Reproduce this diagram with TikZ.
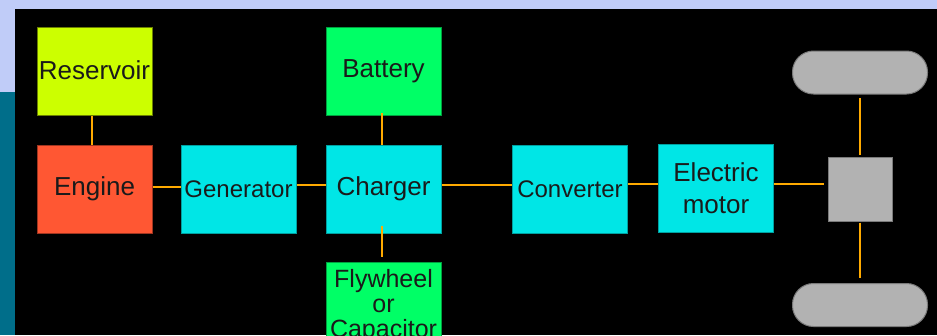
\documentclass[tikz,border=0pt]{standalone}
\usepackage{fontspec}
\setmainfont{Liberation Sans}
\definecolor{lav}{HTML}{C0CCF8}
\definecolor{teal2}{HTML}{006E8A}
\definecolor{lime}{HTML}{CCFF00}
\definecolor{limeb}{HTML}{6B8000}
\definecolor{eng}{HTML}{FF5733}
\definecolor{engb}{HTML}{A03520}
\definecolor{cyn}{HTML}{00E6E6}
\definecolor{cynb}{HTML}{00A0A0}
\definecolor{grn}{HTML}{00FF66}
\definecolor{grnb}{HTML}{00A040}
\definecolor{gry}{HTML}{B2B2B2}
\definecolor{gryb}{HTML}{7A7A7A}
\definecolor{wire}{HTML}{FFAA00}
\definecolor{ink}{HTML}{1A1A1A}
\tikzset{
  blk/.style={draw, line width=1pt, inner sep=0pt, minimum width=115pt, minimum height=88pt,
    text=ink, font=\fontsize{26pt}{32pt}\selectfont, align=center},
  smalltext/.style={font=\fontsize{24pt}{28pt}\selectfont},
  wheel/.style={draw=gryb, fill=gry, line width=1pt, rounded corners=21pt, minimum width=135pt, minimum height=43pt, inner sep=0pt},
  conn/.style={draw=wire, line width=2pt}
}
\begin{document}
\begin{tikzpicture}[x=1pt,y=-1pt]
\useasboundingbox (0,0) rectangle (937,335);
\clip (0,0) rectangle (937,335);
\fill[lav] (0,0) rectangle (937,335);
\fill[teal2] (0,92) rectangle (15,335);
\fill[black] (15,9) rectangle (937,335);

\node[blk, fill=lime, draw=limeb] (res) at (94.5,71.5) {\raisebox{2pt}{Reservoir}};
\node[blk, fill=eng, draw=engb] (eng) at (94.5,189) {Engine};
\node[blk, fill=cyn, draw=cynb, smalltext] (gen) at (238.5,189) {Generator};
\node[blk, fill=cyn, draw=cynb] (chg) at (383.5,189) {Charger};
\node[blk, fill=grn, draw=grnb] (bat) at (383.5,71.5) {Battery};
\node[blk, fill=grn, draw=grnb, font=\fontsize{25pt}{25pt}\selectfont] (fly) at (383.5,306) {Flywheel\\or\\Capacitor};
\node[blk, fill=cyn, draw=cynb, smalltext] (cnv) at (570,189) {Converter};
\node[blk, fill=cyn, draw=cynb] (mot) at (716,188.7) {Electric\\motor};
\node[draw=gryb, fill=gry, line width=1pt, minimum width=64pt, minimum height=64pt, inner sep=0pt] (diff) at (860,189) {};
\node[wheel] (wt) at (860,72.5) {};
\node[wheel] (wb) at (860,305) {};

\draw[conn] ([xshift=-2.5pt]res.south) -- ([xshift=-2.5pt]eng.north);
\draw[conn] ([yshift=2.3pt]eng.east) -- ([yshift=2.3pt]gen.west);
\draw[conn] ([yshift=4pt]gen.east) -- ([yshift=4pt]chg.west);
\draw[conn] ([xshift=-1.8pt,yshift=3pt]bat.south) -- ([xshift=-1.8pt]chg.north);
\draw[conn] ([xshift=-1.8pt,yshift=8pt]chg.south) -- ([xshift=-1.8pt,yshift=5pt]fly.north);
\draw[conn] ([yshift=4pt]chg.east) -- ([yshift=4pt]cnv.west);
\draw[conn] ([yshift=4.7pt]cnv.east) -- ([yshift=4.4pt]mot.west);
\draw[conn, shorten >=4pt] ([yshift=4.4pt]mot.east) -- ([yshift=4.7pt]diff.west);
\draw[conn, shorten <=2pt, shorten >=3pt] (diff.north) -- (wt.south);
\draw[conn, shorten <=1pt, shorten >=5pt] (diff.south) -- (wb.north);
\end{tikzpicture}
\end{document}
